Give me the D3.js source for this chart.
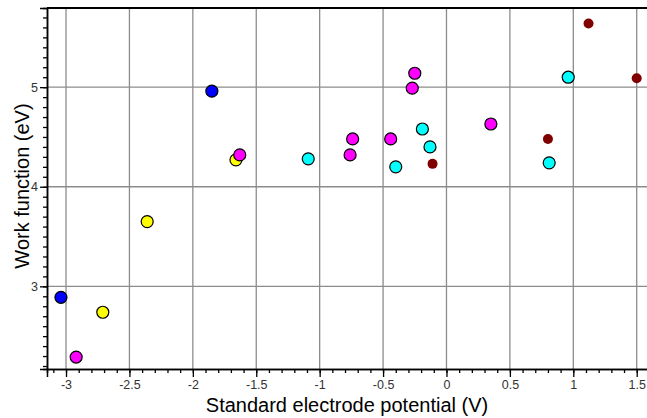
<!DOCTYPE html>
<html><head><meta charset="utf-8">
<script src="https://cdn.jsdelivr.net/npm/d3@7"></script>
<style>body{margin:0;background:#fff}svg{display:block}</style>
</head><body>
<svg id="chart" width="647" height="418"></svg>
<script>
// Data (standard electrode potential V, work function eV)
const blueX = [-1.85, -3.04];
const blueY = [4.96, 2.89];
const yellowX = [-2.71, -2.36, -1.66];
const yellowY = [2.74, 3.65, 4.27];
const magentaX = [-2.92, -1.63, -0.74, -0.76, -0.44, -0.25, -0.27, 0.35];
const magentaY = [2.29, 4.32, 4.48, 4.32, 4.48, 5.14, 4.99, 4.63];
const cyanX = [-1.09, -0.40, -0.19, -0.13, 0.81, 0.96];
const cyanY = [4.28, 4.20, 4.58, 4.40, 4.24, 5.10];
const darkredX = [-0.11, 0.80, 1.12, 1.50];
const darkredY = [4.23, 4.48, 5.64, 5.09];
const xTicks = [-3, -2.5, -2, -1.5, -1, -0.5, 0, 0.5, 1, 1.5];
const xTickLabels = ["-3", "-2.5", "-2", "-1.5", "-1", "-0.5", "0", "0.5", "1", "1.5"];
const yTicks = [3, 4, 5];
const yTickLabels = ["3", "4", "5"];

const svg = d3.select("#chart");
const L = 47, T = 8, B = 369, R = 657;
const x = d3.scaleLinear().domain([-3.15, 1.66]).range([L, R]);
const y = d3.scaleLinear().domain([2.17, 5.795]).range([B, T]);

const font = "Arial, 'Liberation Sans', sans-serif";

// gridlines
svg.append("g").selectAll("line").data(xTicks).join("line")
  .attr("x1", d => x(d)).attr("x2", d => x(d)).attr("y1", T).attr("y2", B)
  .attr("stroke", "#8c8c8c").attr("stroke-width", 1.3);
svg.append("g").selectAll("line").data(yTicks).join("line")
  .attr("x1", L).attr("x2", R).attr("y1", d => y(d)).attr("y2", d => y(d))
  .attr("stroke", "#8c8c8c").attr("stroke-width", 1.3);

// top border
svg.append("line").attr("x1", L).attr("x2", R).attr("y1", T).attr("y2", T)
  .attr("stroke", "#000").attr("stroke-width", 2);

// x axis
const xMinor = d3.range(-3.1, 1.61, 0.1).map(v => Math.round(v * 10) / 10);
const xAxisMinor = d3.axisBottom(x).tickValues(xMinor).tickSize(4).tickFormat("");
const gxm = svg.append("g").attr("transform", `translate(0,${B})`).call(xAxisMinor);
const xAxis = d3.axisBottom(x).tickValues(xTicks).tickSize(8).tickPadding(3)
  .tickFormat((d, i) => xTickLabels[i]);
const gx = svg.append("g").attr("transform", `translate(0,${B})`).call(xAxis);
[gx, gxm].forEach(g => {
  g.select(".domain").attr("stroke", "#000").attr("stroke-width", 1.5);
  g.selectAll(".tick line").attr("stroke", "#000").attr("stroke-width", 1.3);
  g.selectAll("text").attr("font-family", font).attr("font-size", 12.5).attr("fill", "#333");
});

// y axis
const yMinor = d3.range(2.2, 5.71, 0.1).map(v => Math.round(v * 10) / 10);
const yAxisMinor = d3.axisLeft(y).tickValues(yMinor).tickSize(4).tickFormat("");
const gym = svg.append("g").attr("transform", `translate(${L},0)`).call(yAxisMinor);
const yAxis = d3.axisLeft(y).tickValues(yTicks).tickSize(7).tickPadding(2)
  .tickFormat((d, i) => yTickLabels[i]);
const gy = svg.append("g").attr("transform", `translate(${L},0)`).call(yAxis);
[gy, gym].forEach(g => {
  g.select(".domain").attr("stroke", "#000").attr("stroke-width", 1.5);
  g.selectAll(".tick line").attr("stroke", "#000").attr("stroke-width", 1.3);
  g.selectAll("text").attr("font-family", font).attr("font-size", 12.5).attr("fill", "#333");
});

// points
function series(xs, ys, fill, r, stroke) {
  svg.append("g").selectAll("circle").data(xs.map((v, i) => [v, ys[i]])).join("circle")
    .attr("cx", d => x(d[0])).attr("cy", d => y(d[1])).attr("r", r)
    .attr("fill", fill)
    .attr("stroke", stroke ? "#000" : "none").attr("stroke-width", 1.2);
}
series(blueX, blueY, "#0000ff", 6, true);
series(yellowX, yellowY, "#ffff00", 6, true);
series(magentaX, magentaY, "#ff00ff", 6, true);
series(cyanX, cyanY, "#00ffff", 6, true);
series(darkredX, darkredY, "#800000", 5, false);

// titles
svg.append("text").attr("x", 347).attr("y", 412).attr("text-anchor", "middle")
  .attr("font-family", font).attr("font-size", 20).attr("fill", "#000")
  .text("Standard electrode potential (V)");
svg.append("text").attr("transform", "translate(29,186) rotate(-90)").attr("text-anchor", "middle")
  .attr("font-family", font).attr("font-size", 20).attr("fill", "#000")
  .text("Work function (eV)");
</script>
</body></html>
